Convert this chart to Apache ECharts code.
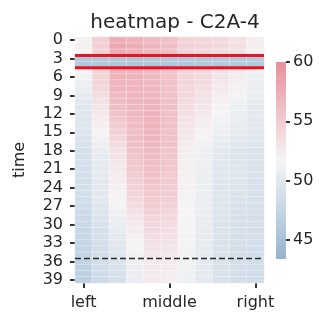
<!DOCTYPE html>
<html>
<head>
<meta charset="utf-8">
<script src="https://cdn.jsdelivr.net/npm/echarts@6/dist/echarts.min.js"></script>
<style>
  html, body { margin: 0; padding: 0; background: #fff; }
  #chart { width: 319px; height: 313px; }
</style>
</head>
<body>
<div id="chart"></div>
<script>
// columns (x) and time steps (y)
const positions = ['left', '', '', '', '', 'middle', '', '', '', '', 'right']
const times = Array.from({ length: 40 }, (_, i) => String(i))

// colour bar ticks and range
const cbarTicks = [45, 50, 55, 60]
const cbarMin = 43.4
const cbarMax = 60
const palette = ['#94b3ce', '#c6d6e5', '#f5f4f5', '#f0c2c9', '#e8909c']

// marked rows: red box around time 3-4, dashed line at 36
const boxRows = [3, 5]
const dashRow = 36

// values, one row per time step, one value per column
const values = [
  [52.0, 54.6, 57.6, 57.2, 56.6, 56.0, 54.4, 54.2, 53.8, 53.3, 52.2],
  [52.0, 54.8, 58.0, 57.6, 56.9, 56.2, 54.6, 54.3, 53.9, 53.4, 52.2],
  [51.9, 54.6, 57.8, 57.4, 56.8, 56.1, 54.4, 54.2, 53.7, 53.2, 52.1],
  [45.8, 45.7, 45.6, 45.6, 45.7, 45.7, 45.8, 45.8, 45.9, 45.9, 46.0],
  [45.9, 45.8, 45.7, 45.7, 45.7, 45.8, 45.8, 45.9, 45.9, 46.0, 46.0],
  [51.6, 54.4, 57.0, 57.0, 56.6, 55.9, 54.4, 54.0, 53.2, 52.6, 51.2],
  [51.4, 54.3, 57.2, 57.0, 56.6, 55.9, 54.3, 53.9, 53.0, 52.4, 51.0],
  [51.0, 54.2, 57.1, 57.0, 56.7, 55.9, 54.2, 53.7, 52.8, 52.2, 50.9],
  [50.7, 54.0, 56.9, 56.9, 56.8, 55.9, 54.1, 53.5, 52.6, 52.0, 50.8],
  [50.4, 53.6, 56.6, 56.9, 56.9, 56.0, 54.0, 53.3, 52.3, 51.5, 50.6],
  [50.1, 53.3, 56.4, 56.8, 57.0, 56.0, 53.8, 53.0, 52.1, 51.2, 50.4],
  [49.9, 53.0, 56.1, 56.7, 57.0, 56.0, 53.6, 52.8, 51.9, 51.0, 50.3],
  [49.8, 52.7, 55.8, 56.6, 57.0, 56.0, 53.4, 52.6, 51.6, 50.8, 50.2],
  [49.7, 52.4, 55.4, 56.5, 57.1, 56.0, 53.2, 52.4, 51.4, 50.7, 50.1],
  [49.6, 52.1, 55.0, 56.4, 57.1, 56.0, 53.0, 52.2, 51.2, 50.6, 50.0],
  [49.5, 51.8, 54.6, 56.3, 57.0, 56.0, 52.8, 52.0, 51.0, 50.5, 49.9],
  [49.4, 51.4, 54.2, 56.2, 57.0, 55.9, 52.6, 51.6, 50.6, 50.1, 49.7],
  [49.2, 51.0, 53.7, 56.0, 56.8, 55.8, 52.4, 51.3, 50.3, 49.8, 49.5],
  [49.0, 50.6, 53.2, 55.8, 56.4, 55.6, 52.2, 51.0, 50.0, 49.6, 49.3],
  [48.9, 50.5, 53.0, 55.7, 56.3, 55.5, 52.2, 51.0, 50.0, 49.6, 49.3],
  [48.9, 50.4, 52.8, 55.5, 56.2, 55.5, 52.1, 51.0, 49.9, 49.6, 49.2],
  [48.8, 50.3, 52.6, 55.3, 56.1, 55.4, 52.1, 50.9, 49.9, 49.6, 49.2],
  [48.7, 50.3, 52.4, 55.0, 56.0, 55.3, 52.0, 50.9, 49.8, 49.6, 49.2],
  [48.7, 50.2, 52.2, 54.8, 55.8, 55.2, 52.0, 50.9, 49.8, 49.6, 49.1],
  [48.6, 50.1, 52.1, 54.5, 55.6, 55.0, 52.0, 50.9, 49.7, 49.5, 49.1],
  [48.6, 50.1, 51.9, 54.3, 55.4, 54.9, 51.9, 50.8, 49.7, 49.4, 49.1],
  [48.5, 50.0, 51.8, 54.0, 55.2, 54.8, 51.9, 50.8, 49.6, 49.3, 49.0],
  [48.3, 49.8, 51.5, 53.6, 54.9, 54.5, 51.8, 50.7, 49.6, 49.2, 49.0],
  [48.1, 49.6, 51.2, 53.3, 54.6, 54.2, 51.8, 50.7, 49.5, 49.1, 48.9],
  [48.0, 49.4, 50.9, 52.9, 54.3, 54.0, 51.7, 50.6, 49.5, 49.0, 48.8],
  [47.8, 49.2, 50.6, 52.6, 54.0, 53.7, 51.6, 50.6, 49.4, 48.9, 48.8],
  [47.7, 49.0, 50.4, 52.3, 53.8, 53.5, 51.6, 50.5, 49.4, 48.9, 48.7],
  [47.6, 48.9, 50.2, 52.0, 53.5, 53.2, 51.5, 50.5, 49.4, 48.8, 48.7],
  [47.5, 48.8, 50.0, 51.8, 53.3, 53.0, 51.5, 50.4, 49.3, 48.8, 48.6],
  [47.4, 48.7, 49.8, 51.5, 53.0, 52.9, 51.4, 50.4, 49.3, 48.7, 48.6],
  [47.3, 48.6, 49.6, 51.3, 52.8, 52.7, 51.4, 50.4, 49.3, 48.7, 48.5],
  [47.2, 48.5, 49.4, 51.1, 52.7, 52.6, 51.3, 50.3, 49.3, 48.7, 48.5],
  [47.0, 48.4, 49.2, 50.9, 52.6, 52.5, 51.3, 50.3, 49.2, 48.7, 48.5],
  [46.9, 48.3, 49.0, 50.8, 52.5, 52.4, 51.2, 50.3, 49.2, 48.6, 48.4],
  [46.8, 48.2, 48.9, 50.7, 52.5, 52.4, 51.2, 50.2, 49.2, 48.6, 48.4],
]

const FONT = 'DejaVu Sans'
const TEXT = '#262626'
// thin (1px) ticks did not render here, 2px does
const tickLine = { color: '#333', width: 2 }

const cells = []
values.forEach((row, y) => row.forEach((v, x) => cells.push([x, y, v])))

const hLine = (row) => [[0, row], [positions.length, row]]

// colour bar as a stacked bar: transparent base up to min, gradient up to max
const cbarGradient = new echarts.graphic.LinearGradient(0, 1, 0, 0,
  palette.map((color, i) => ({ offset: i / (palette.length - 1), color })))

const chart = echarts.init(document.getElementById('chart'), null, { renderer: 'canvas' })

chart.setOption({
  animation: false,
  textStyle: { fontFamily: FONT },
  title: {
    text: 'heatmap - C2A-4',
    left: 170,
    textAlign: 'center',
    top: 8,
    textStyle: { fontFamily: FONT, fontSize: 20, fontWeight: 'normal', color: TEXT },
  },
  grid: [
    { left: 75, top: 37, width: 189, height: 246 },
    { left: 75, top: 37, width: 189, height: 246 },
    { left: 276, top: 62, width: 10, height: 197 },
  ],
  xAxis: [
    {
      type: 'category',
      gridIndex: 0,
      data: positions,
      axisLine: { show: false },
      axisTick: {
        show: true,
        alignWithLabel: true,
        interval: (i) => i % 5 === 0,
        length: 5,
        lineStyle: tickLine,
      },
      axisLabel: { interval: 0, fontSize: 16, color: TEXT, margin: 12, fontFamily: FONT },
      splitLine: { show: false },
    },
    { type: 'value', gridIndex: 1, min: 0, max: positions.length, show: false },
    { type: 'category', gridIndex: 2, data: ['cbar'], show: false },
  ],
  yAxis: [
    {
      type: 'category',
      gridIndex: 0,
      data: times,
      inverse: true,
      name: 'time',
      nameLocation: 'middle',
      nameGap: 47,
      nameRotate: 90,
      nameTextStyle: { fontSize: 16, color: TEXT, fontFamily: FONT },
      axisLine: { show: false },
      axisTick: {
        show: true,
        alignWithLabel: true,
        interval: 2,
        length: 5,
        lineStyle: tickLine,
      },
      axisLabel: { interval: 2, fontSize: 16, color: TEXT, margin: 12, fontFamily: FONT },
      splitLine: { show: false },
    },
    { type: 'value', gridIndex: 1, min: 0, max: times.length, inverse: true, show: false },
    {
      type: 'value',
      gridIndex: 2,
      position: 'right',
      min: cbarMin,
      max: cbarMax,
      axisLine: { show: false },
      splitLine: { show: false },
      axisTick: {
        show: true,
        customValues: cbarTicks,
        length: 4,
        lineStyle: tickLine,
      },
      axisLabel: { customValues: cbarTicks, fontSize: 16, color: TEXT, margin: 7, fontFamily: FONT },
    },
  ],
  visualMap: {
    type: 'continuous',
    show: false,
    seriesIndex: 0,
    min: cbarMin,
    max: cbarMax,
    inRange: { color: palette },
  },
  series: [
    {
      type: 'heatmap',
      xAxisIndex: 0,
      yAxisIndex: 0,
      data: cells,
      itemStyle: { borderColor: 'rgba(255,255,255,0.55)', borderWidth: 0.6 },
      emphasis: { disabled: true },
    },
    {
      type: 'line',
      xAxisIndex: 1,
      yAxisIndex: 1,
      data: hLine(boxRows[0]),
      symbol: 'none',
      lineStyle: { color: '#f01020', width: 3 },
      z: 5,
    },
    {
      type: 'line',
      xAxisIndex: 1,
      yAxisIndex: 1,
      data: hLine(boxRows[1]),
      symbol: 'none',
      lineStyle: { color: '#f01020', width: 3 },
      z: 5,
    },
    {
      type: 'line',
      xAxisIndex: 1,
      yAxisIndex: 1,
      data: hLine(dashRow),
      symbol: 'none',
      lineStyle: { color: '#2a2a2a', width: 1.5, type: [6, 3] },
      z: 5,
    },
    {
      type: 'bar',
      xAxisIndex: 2,
      yAxisIndex: 2,
      stack: 'cbar',
      data: [cbarMin],
      barWidth: '100%',
      itemStyle: { color: 'rgba(0,0,0,0)' },
      emphasis: { disabled: true },
      silent: true,
    },
    {
      type: 'bar',
      xAxisIndex: 2,
      yAxisIndex: 2,
      stack: 'cbar',
      data: [cbarMax - cbarMin],
      barWidth: '100%',
      itemStyle: { color: cbarGradient },
      emphasis: { disabled: true },
      silent: true,
    },
  ],
})
</script>
</body>
</html>
